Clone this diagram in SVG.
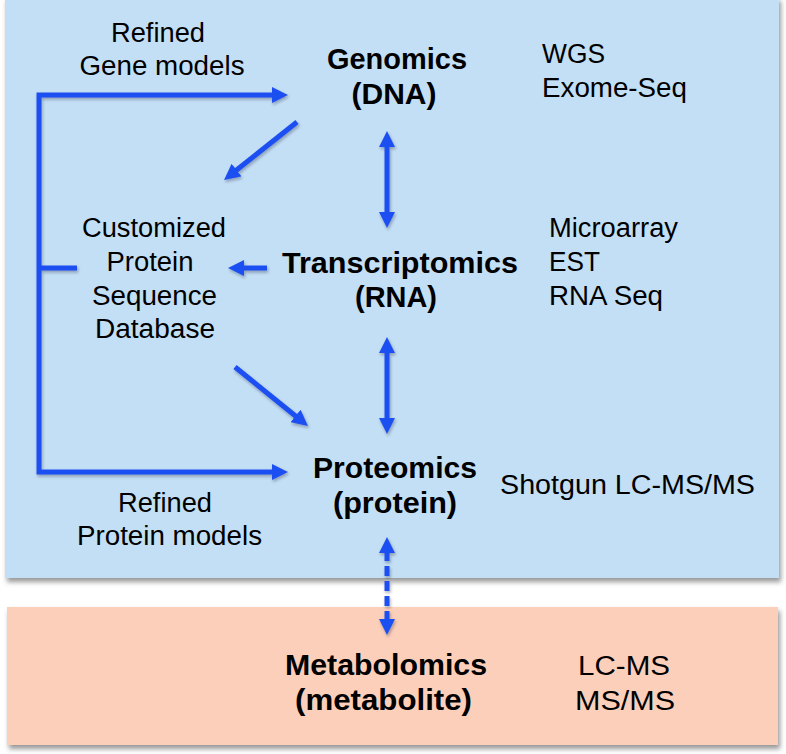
<svg xmlns="http://www.w3.org/2000/svg" width="786" height="754" viewBox="0 0 786 754">
<defs>
<style>
.t{font-family:"Liberation Sans",Arial,sans-serif;font-size:27px;fill:#000}
.b{font-family:"Liberation Sans",Arial,sans-serif;font-size:30px;font-weight:bold;fill:#000}
.c{text-anchor:middle}
.ln{fill:none;stroke:#1f4ff2;stroke-width:5}
</style>
<filter id="sh" x="-5%" y="-5%" width="110%" height="115%">
<feDropShadow dx="2" dy="4" stdDeviation="2.5" flood-color="#444" flood-opacity="0.55"/>
</filter>
<filter id="ash" x="-20%" y="-20%" width="140%" height="140%">
<feDropShadow dx="1" dy="2" stdDeviation="1.5" flood-color="#223" flood-opacity="0.35"/>
</filter>
<marker id="ah" viewBox="0 0 16 16" markerWidth="16" markerHeight="16" refX="2" refY="8" markerUnits="userSpaceOnUse" orient="auto-start-reverse">
<path d="M0,0 L16,8 L0,16 z" fill="#1f4ff2"/>
</marker>
</defs>

<g id="omics-box">
<rect x="5" y="-3" width="774" height="581" fill="#c3dff5" filter="url(#sh)"/>
</g>
<g id="metabolomics-box">
<rect x="7" y="607" width="771" height="138" fill="#fccfba" filter="url(#sh)"/>
</g>

<g id="connectors" filter="url(#ash)">
<path class="ln" d="M274,95 H39 V472 H274" marker-start="url(#ah)" marker-end="url(#ah)"/>
<path class="ln" d="M39,268 H77"/>
<path class="ln" d="M297,122 L235,171.3" marker-end="url(#ah)"/>
<path class="ln" d="M387,145 V214" marker-start="url(#ah)" marker-end="url(#ah)"/>
<path class="ln" d="M267,268 H242" marker-end="url(#ah)"/>
<path class="ln" d="M387,351 V420" marker-start="url(#ah)" marker-end="url(#ah)"/>
<path class="ln" d="M235,367 L297.1,417.2" marker-end="url(#ah)"/>
<path class="ln" d="M387,551 V621" stroke-dasharray="10 5" marker-start="url(#ah)" marker-end="url(#ah)"/>
</g>

<g id="refined-gene">
<text class="t c" x="158" y="42" textLength="94" lengthAdjust="spacingAndGlyphs">Refined</text>
<text class="t c" x="162" y="75" textLength="165" lengthAdjust="spacingAndGlyphs">Gene models</text>
</g>

<g id="genomics">
<text class="b c" x="397" y="69" textLength="140" lengthAdjust="spacingAndGlyphs">Genomics</text>
<text class="b c" x="394" y="104" textLength="85" lengthAdjust="spacingAndGlyphs">(DNA)</text>
</g>

<g id="genomics-methods">
<text class="t" x="542" y="63" textLength="63" lengthAdjust="spacingAndGlyphs">WGS</text>
<text class="t" x="542" y="97" textLength="145" lengthAdjust="spacingAndGlyphs">Exome-Seq</text>
</g>

<g id="database">
<text class="t c" x="154" y="237" textLength="144" lengthAdjust="spacingAndGlyphs">Customized</text>
<text class="t c" x="150" y="271" textLength="87" lengthAdjust="spacingAndGlyphs">Protein</text>
<text class="t c" x="154.5" y="305" textLength="125" lengthAdjust="spacingAndGlyphs">Sequence</text>
<text class="t c" x="155" y="338" textLength="120" lengthAdjust="spacingAndGlyphs">Database</text>
</g>

<g id="transcriptomics">
<text class="b c" x="400" y="273" textLength="236" lengthAdjust="spacingAndGlyphs">Transcriptomics</text>
<text class="b c" x="396" y="307" textLength="82" lengthAdjust="spacingAndGlyphs">(RNA)</text>
</g>

<g id="transcriptomics-methods">
<text class="t" x="549" y="237" textLength="129" lengthAdjust="spacingAndGlyphs">Microarray</text>
<text class="t" x="549" y="271" textLength="51" lengthAdjust="spacingAndGlyphs">EST</text>
<text class="t" x="549" y="305" textLength="114" lengthAdjust="spacingAndGlyphs">RNA Seq</text>
</g>

<g id="proteomics">
<text class="b c" x="395" y="478" textLength="164" lengthAdjust="spacingAndGlyphs">Proteomics</text>
<text class="b c" x="395" y="513" textLength="124" lengthAdjust="spacingAndGlyphs">(protein)</text>
</g>

<g id="proteomics-methods">
<text class="t" x="500" y="494" textLength="255" lengthAdjust="spacingAndGlyphs">Shotgun LC-MS/MS</text>
</g>

<g id="refined-protein">
<text class="t c" x="165" y="512" textLength="94" lengthAdjust="spacingAndGlyphs">Refined</text>
<text class="t c" x="169.5" y="545" textLength="185" lengthAdjust="spacingAndGlyphs">Protein models</text>
</g>

<g id="metabolomics">
<text class="b c" x="386" y="675" textLength="202" lengthAdjust="spacingAndGlyphs">Metabolomics</text>
<text class="b c" x="383.5" y="710" textLength="177" lengthAdjust="spacingAndGlyphs">(metabolite)</text>
</g>

<g id="metabolomics-methods">
<text class="t c" x="624" y="675" textLength="92" lengthAdjust="spacingAndGlyphs">LC-MS</text>
<text class="t c" x="625" y="710" textLength="100" lengthAdjust="spacingAndGlyphs">MS/MS</text>
</g>
</svg>
